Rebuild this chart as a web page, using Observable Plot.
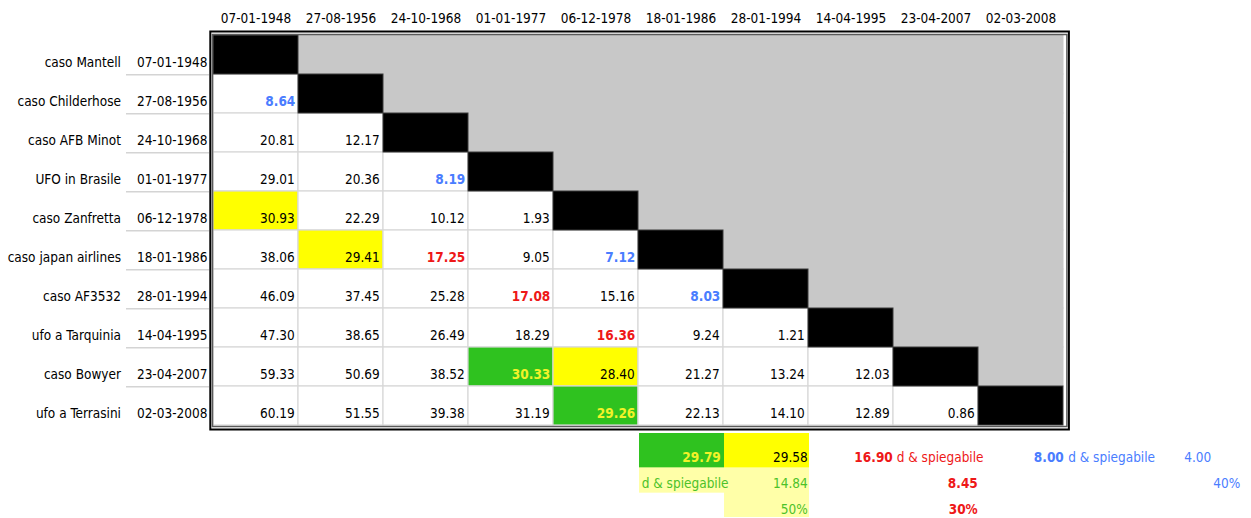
<!DOCTYPE html>
<html><head><meta charset="utf-8">
<script src="https://cdn.jsdelivr.net/npm/d3@7"></script>
<script src="https://cdn.jsdelivr.net/npm/@observablehq/plot@0.6"></script>
<style>
body{margin:0;background:#fff;}
#chart svg{display:block;}
</style></head><body><div id="chart"></div>
<script>
// ---- data ----
const cases = ["caso Mantell","caso Childerhose","caso AFB Minot","UFO in Brasile","caso Zanfretta","caso japan airlines","caso AF3532","ufo a Tarquinia","caso Bowyer","ufo a Terrasini"];
const dates = ["07-01-1948","27-08-1956","24-10-1968","01-01-1977","06-12-1978","18-01-1986","28-01-1994","14-04-1995","23-04-2007","02-03-2008"];
const distances = [
  [],
  [8.64],
  [20.81, 12.17],
  [29.01, 20.36, 8.19],
  [30.93, 22.29, 10.12, 1.93],
  [38.06, 29.41, 17.25, 9.05, 7.12],
  [46.09, 37.45, 25.28, 17.08, 15.16, 8.03],
  [47.30, 38.65, 26.49, 18.29, 16.36, 9.24, 1.21],
  [59.33, 50.69, 38.52, 30.33, 28.40, 21.27, 13.24, 12.03],
  [60.19, 51.55, 39.38, 31.19, 29.26, 22.13, 14.10, 12.89, 0.86]
];
// highlighted cells as [row, column]
const yellowCells = [[4,0],[5,1],[8,4]];
const greenCells = [[8,3],[9,4]];
const redValues = [[5,2],[6,3],[7,4]];
const blueValues = [[1,0],[3,2],[5,4],[6,5]];
// summary below the table
const summaryD = [29.79, 29.58, 16.90, 8.00];     // green, yellow, red, blue
const summaryHalf = [14.84, 8.45, 4.00];          // yellow, red, blue
const summaryPct = ["50%", "30%", "40%"];         // yellow, red, blue
const spiegLabel = "d & spiegabile";
const extraCols = ["extra1", "extra2"];
const summaryRows = ["a", "b", "c"];

// ---- styling ----
const FONT = '"DejaVu Sans Condensed", "Liberation Sans Narrow", "Arial Narrow", sans-serif';
const FS = 13.5;
const W = 1251, ML = 210.5, MR = 184.6, MT = 33, MB = 6, H = 432;
const bw = (W - ML - MR) / 10;
const bh = (H - MT - MB) / 10;
const BLUE = "#4a7dff", RED = "#ee1818", GREEN = "#2fc21f", YELLOW = "#ffff00", LIGHTY = "#ffffa8", GTEXT = "#4cc22a", YTEXT = "#f2f229", GRAY = "#c8c8c8";
const LS = 0, LSB = 0.5, LSD = 0.5;

const has = (list, r, c) => list.some(([a, b]) => a === r && b === c);
const cells = [];
for (let r = 0; r < 10; r++) for (let c = 0; c < 10; c++) {
  const kind = c < r ? "lower" : c === r ? "diag" : "upper";
  let fill = kind === "lower" ? "#ffffff" : kind === "diag" ? "#000000" : GRAY;
  let color = "#000", bold = false;
  if (kind === "lower") {
    if (has(yellowCells, r, c)) fill = YELLOW;
    if (has(greenCells, r, c)) { fill = GREEN; color = YTEXT; bold = true; }
    if (has(redValues, r, c)) { color = RED; bold = true; }
    if (has(blueValues, r, c)) { color = BLUE; bold = true; }
  }
  cells.push({row: cases[r], col: dates[c], kind, fill, color, bold, value: kind === "lower" ? distances[r][c] : null});
}
const lower = cells.filter(d => d.kind === "lower");
const rowInfo = cases.map((name, i) => ({name, date: dates[i], i}));

const txt = {fontFamily: FONT, fontSize: FS, lineAnchor: "middle"};
const DY = 8;
const main = Plot.plot({
  width: W, height: H, marginLeft: ML, marginRight: MR, marginTop: MT, marginBottom: MB,
  x: {type: "band", domain: dates, padding: 0, axis: null},
  y: {type: "band", domain: cases, padding: 0, axis: null},
  style: {fontFamily: FONT, fontSize: FS + "px", background: "#fff"},
  marks: [
    Plot.cell(cells.filter(d => d.kind === "upper"), {x: "col", y: "row", fill: GRAY, stroke: GRAY}),
    Plot.cell(lower, {x: "col", y: "row", fill: "fill", stroke: "#d8d8d8", strokeWidth: 1.2}),
    Plot.cell(cells.filter(d => d.kind === "diag"), {x: "col", y: "row", fill: "#000", stroke: "#3a3a3a"}),
    // values
    Plot.text(lower.filter(d => !d.bold), {x: "col", y: "row", text: d => d.value.toFixed(2), fill: "color",
      textAnchor: "end", dx: bw / 2 - 4, dy: DY, ...txt, letterSpacing: LS}),
    Plot.text(lower.filter(d => d.bold), {x: "col", y: "row", text: d => d.value.toFixed(2), fill: "color",
      fontWeight: "bold", textAnchor: "end", dx: bw / 2 - 3.5, dy: DY, ...txt, letterSpacing: LSB}),
    // column headers
    Plot.text(dates, {x: d => d, frameAnchor: "top", dy: -15, ...txt, letterSpacing: LSD, fill: "#000"}),
    // row labels
    Plot.ruleY(rowInfo.slice(0, 9), {y: "name", dy: bh / 2, insetLeft: -(ML - 126), insetRight: (W - MR - ML) + (ML - 209), stroke: "#d4d4d4", strokeWidth: 1.5}),
    Plot.text(rowInfo, {y: "name", text: "name", frameAnchor: "left", textAnchor: "end", dx: -(ML - 120.5), dy: DY, ...txt, fill: "#000"}),
    Plot.text(rowInfo, {y: "name", text: "date", frameAnchor: "left", textAnchor: "end", dx: -3.5, dy: DY, ...txt, letterSpacing: LSD, fill: "#000"}),
    // double border
    Plot.frame({stroke: "#5a5a5a", strokeWidth: 1.5, insetLeft: 1.5, insetTop: 1, insetRight: 0, insetBottom: 0}),
    Plot.frame({stroke: "#000", strokeWidth: 2, insetLeft: -0.7, insetTop: -2, insetRight: -2, insetBottom: -3})
  ]
});

// summary plot
const SH = 518 - H;
const sh = SH / 3;
const sCols = [...dates, ...extraCols];
const R1 = 9.7, R2 = 8, R3 = 6.3;
const summary = Plot.plot({
  width: W, height: SH, marginLeft: ML, marginRight: W - ML - bw * sCols.length, marginTop: 0, marginBottom: 0,
  x: {type: "band", domain: sCols, padding: 0, axis: null},
  y: {type: "band", domain: summaryRows, padding: 0, axis: null},
  style: {fontFamily: FONT, fontSize: FS + "px", background: "#fff"},
  marks: [
    Plot.cell([{x: dates[6], y: "b"}, {x: dates[6], y: "c"}], {x: "x", y: "y", fill: LIGHTY}),
    Plot.cell([{x: dates[5], y: "b"}], {x: "x", y: "y", fill: LIGHTY, insetBottom: -(493 - H - 2 * sh)}),
    Plot.cell([{x: dates[5], y: "a", f: GREEN}, {x: dates[6], y: "a", f: YELLOW}], {x: "x", y: "y", fill: "f", insetBottom: -(467 - H - sh)}),
    // row a
    Plot.text([summaryD[0]], {x: () => dates[5], y: () => "a", text: d => d.toFixed(2), fill: YTEXT, fontWeight: "bold", textAnchor: "end", dx: bw / 2 - 4, dy: R1, ...txt, letterSpacing: LSB}),
    Plot.text([summaryD[1]], {x: () => dates[6], y: () => "a", text: d => d.toFixed(2), fill: "#000", textAnchor: "end", dx: bw / 2 - 2, dy: R1, ...txt, letterSpacing: LS}),
    Plot.text([summaryD[2]], {x: () => dates[7], y: () => "a", text: d => d.toFixed(2), fill: RED, fontWeight: "bold", textAnchor: "end", dx: bw / 2 - 2, dy: R1, ...txt, letterSpacing: LSB}),
    Plot.text([spiegLabel], {x: () => dates[8], y: () => "a", text: d => d, fill: RED, textAnchor: "start", dx: -bw / 2 + 2.5, dy: R1, ...txt}),
    Plot.text([summaryD[3]], {x: () => dates[9], y: () => "a", text: d => d.toFixed(2), fill: BLUE, fontWeight: "bold", textAnchor: "end", dx: bw / 2 - 1, dy: R1, ...txt, letterSpacing: LSB}),
    Plot.text([spiegLabel], {x: () => extraCols[0], y: () => "a", text: d => d, fill: BLUE, textAnchor: "start", dx: -bw / 2 + 4, dy: R1, ...txt}),
    Plot.text([summaryHalf[2]], {x: () => extraCols[1], y: () => "a", text: d => d.toFixed(2), fill: BLUE, textAnchor: "end", dx: bw / 2 - 23.5, dy: R1, ...txt, letterSpacing: LS}),
    // row b
    Plot.text([spiegLabel], {x: () => dates[5], y: () => "b", text: d => d, fill: GTEXT, textAnchor: "start", dx: -bw / 2 + 2.5, dy: R2, ...txt}),
    Plot.text([summaryHalf[0]], {x: () => dates[6], y: () => "b", text: d => d.toFixed(2), fill: GTEXT, textAnchor: "end", dx: bw / 2 - 2, dy: R2, ...txt, letterSpacing: LS}),
    Plot.text([summaryHalf[1]], {x: () => dates[8], y: () => "b", text: d => d.toFixed(2), fill: RED, fontWeight: "bold", textAnchor: "end", dx: bw / 2 - 2, dy: R2, ...txt, letterSpacing: LSB}),
    Plot.text([summaryPct[2]], {x: () => extraCols[1], y: () => "b", text: d => d, fill: BLUE, textAnchor: "end", dx: bw / 2 + 5.5, dy: R2, ...txt, letterSpacing: LS}),
    // row c
    Plot.text([summaryPct[0]], {x: () => dates[6], y: () => "c", text: d => d, fill: GTEXT, textAnchor: "end", dx: bw / 2 - 2, dy: R3, ...txt, letterSpacing: LS}),
    Plot.text([summaryPct[1]], {x: () => dates[8], y: () => "c", text: d => d, fill: RED, fontWeight: "bold", textAnchor: "end", dx: bw / 2 - 2, dy: R3, ...txt, letterSpacing: LSB})
  ]
});

const host = document.getElementById("chart");
host.appendChild(main);
host.appendChild(summary);
</script>
</body></html>
